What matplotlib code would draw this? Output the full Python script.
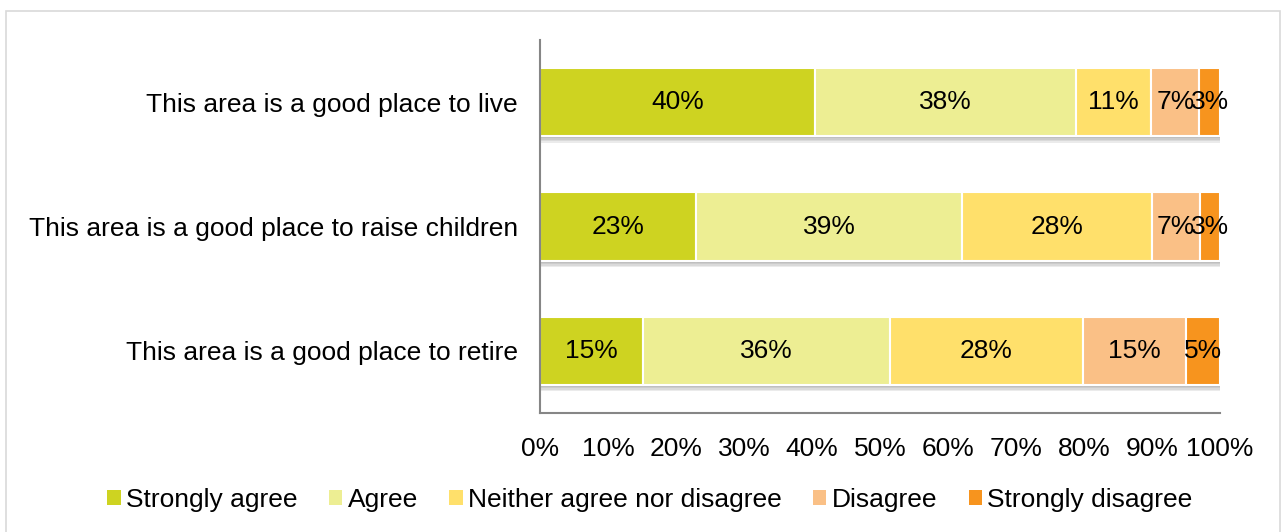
import matplotlib.pyplot as plt
import matplotlib.patches as mpatches
import matplotlib.patheffects as pe
import numpy as np
from matplotlib.ticker import PercentFormatter

plt.rcParams['font.family'] = ['Liberation Sans', 'DejaVu Sans']

statements = ["This area is a good place to live",
              "This area is a good place to raise children",
              "This area is a good place to retire"]
responses = ["Strongly agree", "Agree", "Neither agree nor disagree",
             "Disagree", "Strongly disagree"]
strongly_agree = [40, 23, 15]
agree = [38, 39, 36]
neither = [11, 28, 28]
disagree = [7, 7, 15]
strongly_disagree = [3, 3, 5]
colors = ["#CED321", "#EDEE93", "#FFE06B", "#FAC086", "#F7941E"]

values = np.array([strongly_agree, agree, neither, disagree, strongly_disagree], dtype=float)
# 100% stacked: scale each row to its total
shares = values / values.sum(axis=0) * 100

fig = plt.figure(figsize=(12.83, 5.32), dpi=100)
fig.patches.append(mpatches.Rectangle((6 / 1283, -0.1), 1274 / 1283, 1.1 - 11 / 532,
                                      transform=fig.transFigure, fill=False,
                                      edgecolor="#D9D9D9", linewidth=1.2))
ax = fig.add_axes([540 / 1283, 1 - 413 / 532, 680 / 1283, 373 / 532])

y = np.arange(len(statements))
left = np.zeros(len(statements))
# soft drop shadow made of a few stacked offsets
shadow = [pe.SimplePatchShadow(offset=(0.8, -k), shadow_rgbFace="#606060", alpha=0.12)
          for k in (4.5, 3.5, 2.5, 1.5)] + [pe.Normal()]
for i, resp in enumerate(responses):
    bars = ax.barh(y, shares[i], left=left, height=0.55, color=colors[i],
                   edgecolor="white", linewidth=1.5, label=resp)
    for b in bars:
        b.set_path_effects(shadow)
    for j in range(len(statements)):
        ax.text(left[j] + shares[i][j] / 2, y[j], f"{int(values[i][j])}%",
                ha="center", va="center", fontsize=19, color="black")
    left += shares[i]

ax.set_ylim(2.5, -0.5)
ax.set_xlim(0, 100)
ax.set_yticks(y)
ax.set_yticklabels(statements)
ax.set_xticks(np.arange(0, 101, 10))
ax.xaxis.set_major_formatter(PercentFormatter(decimals=0))
ax.tick_params(axis="both", length=0, labelsize=19)
ax.tick_params(axis="x", pad=17)
ax.tick_params(axis="y", pad=16)
for s in ["top", "right"]:
    ax.spines[s].set_visible(False)
for s in ["left", "bottom"]:
    ax.spines[s].set_color("#868686")
    ax.spines[s].set_linewidth(1.5)

handles, labels = ax.get_legend_handles_labels()
leg = fig.legend(handles, labels, loc="center", bbox_to_anchor=(650 / 1283, 1 - 500 / 532),
                 ncol=5, frameon=False, fontsize=19, handlelength=0.5, handleheight=0.5,
                 handletextpad=0.2, columnspacing=1.2)
for h in leg.legend_handles:
    h.set_path_effects([])
    h.set_linewidth(0)

fig.savefig("out.png", dpi=100)
